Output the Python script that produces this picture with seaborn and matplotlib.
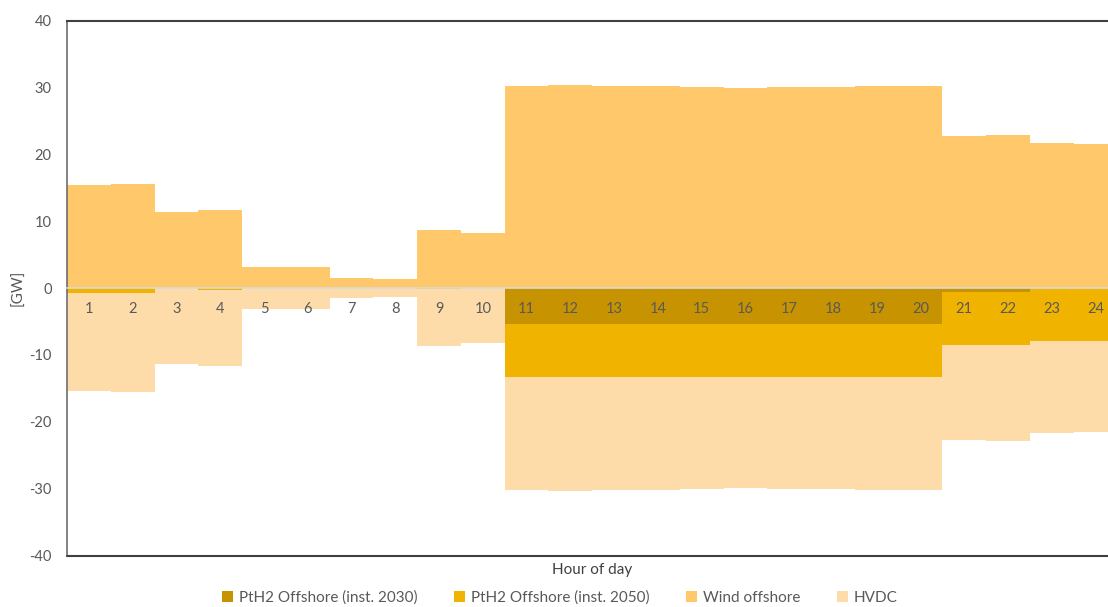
import matplotlib
matplotlib.use("Agg")
import matplotlib.pyplot as plt
import seaborn as sns
import numpy as np
import pandas as pd

# Hour of day categories
hours = [str(h) for h in range(1, 25)]

# Wind offshore generation [GW] (positive side)
wind_offshore = [15.4, 15.5, 11.4, 11.6, 3.1, 3.2, 1.5, 1.4, 8.7, 8.2,
                 30.2, 30.4, 30.2, 30.2, 30.0, 29.9, 30.1, 30.1, 30.2, 30.2,
                 22.8, 22.9, 21.7, 21.5]

# Consumption / export side [GW] (drawn negative)
pth2_2030 = [0.0, 0.0, 0.0, 0.0, 0.0, 0.0, 0.0, 0.0, 0.0, 0.0,
             5.4, 5.4, 5.4, 5.4, 5.4, 5.4, 5.4, 5.4, 5.4, 5.4,
             0.6, 0.6, 0.0, 0.0]
pth2_2050 = [0.8, 0.8, 0.0, 0.3, 0.0, 0.0, 0.0, 0.0, 0.2, 0.0,
             7.9, 7.9, 7.9, 7.9, 7.9, 7.9, 7.9, 7.9, 7.9, 7.9,
             7.9, 7.9, 7.9, 7.9]
hvdc = [14.6, 14.7, 11.4, 11.3, 3.1, 3.2, 1.5, 1.4, 8.5, 8.2,
        16.9, 17.1, 16.9, 16.9, 16.7, 16.6, 16.8, 16.8, 16.9, 16.9,
        14.3, 14.4, 13.8, 13.6]

colors = {
    "PtH2 Offshore (inst. 2030)": "#C89300",
    "PtH2 Offshore (inst. 2050)": "#F0B400",
    "Wind offshore": "#FEC86B",
    "HVDC": "#FEDCAA",
}
grey = "#595959"

sns.set_style("white")
plt.rcParams["font.family"] = ["Lato", "DejaVu Sans"]
plt.rcParams["axes.unicode_minus"] = False

fig = plt.figure(figsize=(11.08, 6.07), dpi=100)
ax = fig.add_axes([0.0605, 0.0848, 0.948, 0.8814])

df = pd.DataFrame({
    "hour": hours,
    "wind": wind_offshore,
    "p30": -np.array(pth2_2030),
    "p50": -np.array(pth2_2050),
    "hvdc": -np.array(hvdc),
})

bar_kw = dict(width=1, linewidth=0, saturation=1, order=hours, ax=ax)
sns.barplot(data=df, x="hour", y="p30", color=colors["PtH2 Offshore (inst. 2030)"],
            label="PtH2 Offshore (inst. 2030)", **bar_kw)
sns.barplot(data=df, x="hour", y="p50", bottom=df["p30"].values,
            color=colors["PtH2 Offshore (inst. 2050)"],
            label="PtH2 Offshore (inst. 2050)", **bar_kw)
sns.barplot(data=df, x="hour", y="wind", color=colors["Wind offshore"],
            label="Wind offshore", **bar_kw)
sns.barplot(data=df, x="hour", y="hvdc", bottom=(df["p30"] + df["p50"]).values,
            color=colors["HVDC"], label="HVDC", **bar_kw)

ax.set_ylim(-40, 40)
ax.set_xlim(-0.5, 23.5)
ax.set_yticks(range(-40, 41, 10))
ax.set_ylabel("")
ax.set_xlabel("")
ax.set_axisbelow(False)

# category axis crosses at zero
ax.spines["bottom"].set_position(("data", 0))
ax.spines["bottom"].set_color("#D9D9D9")
ax.spines["bottom"].set_linewidth(1.2)
ax.spines["left"].set_color("#6E6E6E")
ax.spines["top"].set_color("#404040")
ax.spines["left"].set_linewidth(1.2)
ax.spines["top"].set_linewidth(1.5)
ax.spines["right"].set_visible(False)
ax.axhline(-40, color="#404040", lw=1.5, clip_on=False, zorder=3)

ax.tick_params(axis="x", length=0, pad=10, labelsize=10.5, labelcolor=grey)
ax.tick_params(axis="y", length=0, pad=11, labelsize=10.5, labelcolor=grey)

fig.text(0.017, 1 - 288 / 607, "[GW]", rotation=90, ha="center", va="center",
         fontsize=11, color=grey)
fig.text(592 / 1108, 1 - 570 / 607, "Hour of day", ha="center", va="center",
         fontsize=11, color="#404040")

handles, labels = ax.get_legend_handles_labels()
ax.legend(handles, labels, loc="center", bbox_to_anchor=(560 / 1108, 1 - 598 / 607),
          bbox_transform=fig.transFigure, ncol=4, frameon=False, fontsize=11,
          handlelength=0.7, handleheight=0.7, handletextpad=0.4, columnspacing=2.4,
          labelcolor=grey)

plt.savefig("out.png", dpi=100)
